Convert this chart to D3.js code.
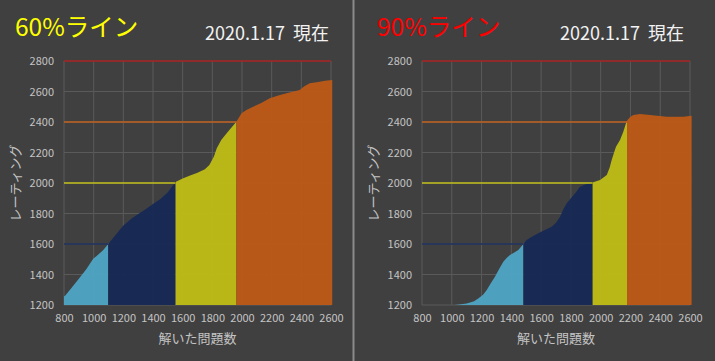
<!DOCTYPE html>
<html><head><meta charset="utf-8">
<script src="https://cdn.jsdelivr.net/npm/d3@7"></script>
<style>
html,body{margin:0;padding:0;background:#404040;}
svg{display:block;}
text{font-family:"Noto Sans CJK JP","Noto Sans",sans-serif;}
</style></head>
<body>
<script>
// ---- data ----
const xTicks = [800,1000,1200,1400,1600,1800,2000,2200,2400,2600];
const yTicks = [1200,1400,1600,1800,2000,2200,2400,2600,2800];
const thresholds = [1600,2000,2400,2800];
const thresholdColors = ["#1b2f5e","#c2bf1a","#c0601e","#a82020"];
const segColors = ["#4ea4c4","#172a55","#bebb16","#bc5a18"];

const leftTitle = "60%ライン";
const rightTitle = "90%ライン";
const dateLabel = "2020.1.17\u00a0\u00a0現在";
const xLabel = "解いた問題数";
const yLabel = "レーティング";

// 60% line: problems solved vs rating
const leftSolved = [800,806,850,900,950,997,1020,1065,1098,1150,1200,1256,1300,1350,1400,1450,1500,1536,1552,1555,1600,1650,1700,1750,1780,1810,1830,1860,1905,1962,1997,2030,2075,2130,2187,2250,2300,2389,2420,2457,2524,2560,2610];
const leftRating = [1258,1259,1312,1372,1434,1503,1521,1561,1600,1662,1722,1768,1797,1828,1862,1895,1940,1987,1998,2008,2030,2050,2068,2090,2118,2172,2228,2282,2336,2402,2457,2478,2500,2525,2555,2575,2588,2610,2635,2654,2664,2670,2675];
const leftBounds = [800,1098,1552,1962,2610];

// 90% line
const rightSolved = [1020,1050,1100,1150,1180,1210,1235,1260,1290,1320,1346,1370,1391,1420,1447,1481,1500,1537,1600,1671,1700,1727,1750,1772,1800,1830,1861,1900,1946,1950,1996,2041,2060,2074,2090,2103,2130,2152,2170,2180,2200,2220,2264,2331,2443,2555,2612];
const rightRating = [1200,1203,1210,1225,1244,1268,1298,1340,1386,1440,1484,1510,1528,1545,1561,1600,1625,1648,1680,1713,1740,1779,1830,1867,1900,1935,1976,1992,1998,2005,2020,2052,2100,2151,2200,2238,2282,2336,2391,2413,2435,2446,2452,2446,2435,2435,2441];
const rightBounds = [800,1481,1946,2177,2612];

const W = 715, H = 361;
const svg = d3.select("body").append("svg").attr("width",W).attr("height",H);
svg.append("rect").attr("width",W).attr("height",H).attr("fill","#404040");
svg.append("line").attr("x1",353.5).attr("x2",353.5).attr("y1",0).attr("y2",H)
  .attr("stroke","#8a8a8a").attr("stroke-width",2);

function panel(opt){
  const g = svg.append("g");
  const x = d3.scaleLinear().domain([800,2600]).range([opt.x0,opt.x1]);
  const y = d3.scaleLinear().domain([1200,2800]).range([305,61]);
  // grid
  g.append("g").selectAll("line").data(yTicks).join("line")
    .attr("x1",x(800)).attr("x2",x(2600)).attr("y1",d=>y(d)).attr("y2",d=>y(d))
    .attr("stroke","#5a5a5a").attr("stroke-width",1);
  g.append("g").selectAll("line").data(xTicks).join("line")
    .attr("x1",d=>x(d)).attr("x2",d=>x(d)).attr("y1",y(1200)).attr("y2",y(2800))
    .attr("stroke","#5a5a5a").attr("stroke-width",1);
  // area segments
  const pts = opt.solved.map((s,i)=>({s, r:opt.rating[i]}));
  const area = d3.area().x(d=>x(d.s)).y0(y(1200)).y1(d=>y(d.r)).curve(d3.curveLinear);
  for(let k=0;k<4;k++){
    const id = opt.id+"c"+k;
    g.append("clipPath").attr("id",id).append("rect")
      .attr("x",x(opt.bounds[k])).attr("width",x(opt.bounds[k+1])-x(opt.bounds[k]))
      .attr("y",0).attr("height",H);
    g.append("path").datum(pts).attr("d",area)
      .attr("clip-path",`url(#${id})`).attr("fill",segColors[k]).attr("fill-opacity",0.96);
  }
  // threshold lines
  thresholds.forEach((t,k)=>{
    const end = k<3 ? opt.bounds[k+1] : 2600;
    g.append("line").attr("x1",x(800)).attr("x2",x(end)).attr("y1",y(t)).attr("y2",y(t))
      .attr("stroke",thresholdColors[k]).attr("stroke-width",1.6);
  });
  // axes labels
  const yAxis = d3.axisLeft(y).tickValues(yTicks).tickFormat(d3.format("d")).tickSize(0).tickPadding(10);
  const ya = g.append("g").attr("transform",`translate(${x(800)},0)`).call(yAxis);
  ya.select(".domain").remove();
  ya.selectAll("text").attr("fill","#c4c4c4").attr("font-size",11);
  const xAxis = d3.axisBottom(x).tickValues(xTicks).tickFormat(d3.format("d")).tickSize(0).tickPadding(9);
  const xa = g.append("g").attr("transform",`translate(0,${y(1200)})`).call(xAxis);
  xa.select(".domain").remove();
  xa.selectAll("text").attr("fill","#c4c4c4").attr("font-size",11);
  g.append("text").attr("x",(opt.x0+opt.x1)/2).attr("y",343).attr("text-anchor","middle")
    .attr("fill","#c4c4c4").attr("font-size",13).text(xLabel);
  g.append("text").attr("transform",`translate(${opt.x0-44},183) rotate(-90)`)
    .attr("text-anchor","middle").attr("fill","#c4c4c4").attr("font-size",13).text(yLabel);
  // titles
  g.append("text").attr("x",opt.tx).attr("y",36).attr("fill",opt.tcolor)
    .attr("font-size",24.5).text(opt.title);
  g.append("text").attr("x",opt.dx).attr("y",40).attr("fill","#f2f2f2")
    .attr("font-size",18).text(dateLabel);
}

panel({id:"L",x0:64,x1:331,solved:leftSolved,rating:leftRating,bounds:leftBounds,
  title:leftTitle,tcolor:"#ffff00",tx:15,dx:205});
panel({id:"R",x0:422,x1:690,solved:rightSolved,rating:rightRating,bounds:rightBounds,
  title:rightTitle,tcolor:"#ff0000",tx:377,dx:560});
</script>
</body></html>
